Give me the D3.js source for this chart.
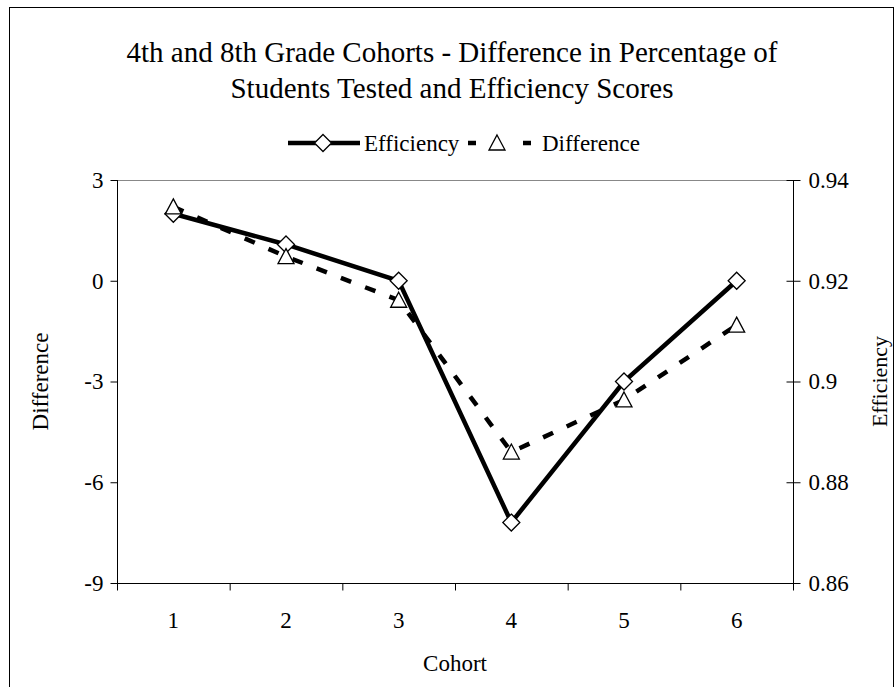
<!DOCTYPE html>
<html><head><meta charset="utf-8">
<script src="https://cdn.jsdelivr.net/npm/d3@7"></script>
<style>body{margin:0;background:#fff}svg{display:block;font-family:"Liberation Serif","Times New Roman",serif}</style>
</head><body>
<svg id="c" width="895" height="687"></svg>
<script>
const cohorts = [1, 2, 3, 4, 5, 6];
const efficiency = [0.9333, 0.9272, 0.92, 0.872, 0.90, 0.92];
const difference = [2.2, 0.72, -0.58, -5.1, -3.55, -1.32];
const leftTicks = [3, 0, -3, -6, -9];
const rightTicks = [0.94, 0.92, 0.9, 0.88, 0.86];
const titleLines = ["4th and 8th Grade Cohorts - Difference in Percentage of", "Students Tested and Efficiency Scores"];

const FONT = "Liberation Serif, Times New Roman, serif";
const svg = d3.select("#c");
const m = {l: 117, r: 793, t: 180, b: 583};

svg.append("rect").attr("x", 9.5).attr("y", 7.5).attr("width", 884).attr("height", 700)
  .attr("fill", "none").attr("stroke", "#000").attr("stroke-width", 1);

const x = d3.scaleBand().domain(cohorts).range([m.l, m.r]);
const yL = d3.scaleLinear().domain([-9, 3]).range([m.b, m.t]);
const yR = d3.scaleLinear().domain([0.86, 0.94]).range([m.b, m.t]);
const cx = d => x(d) + x.bandwidth() / 2;

// title
svg.append("g").selectAll("text").data(titleLines).join("text")
  .attr("x", 452).attr("y", (d, i) => 62 + i * 36).attr("text-anchor", "middle")
  .attr("font-size", 29).text(d => d);

// plot top border (grey)
svg.append("line").attr("x1", m.l).attr("x2", m.r).attr("y1", m.t + 0.5).attr("y2", m.t + 0.5)
  .attr("stroke", "#888").attr("stroke-width", 1);

// left axis
const gL = svg.append("g").attr("transform", `translate(${m.l + 0.5},0)`)
  .call(d3.axisLeft(yL).tickValues(leftTicks).tickSize(7).tickPadding(7).tickFormat(d => String(d)));
// right axis
const gR = svg.append("g").attr("transform", `translate(${m.r + 0.5},0)`)
  .call(d3.axisRight(yR).tickValues(rightTicks).tickSize(7).tickPadding(8).tickFormat(d => String(+d.toFixed(2))));
gR.selectAll(".tick line").attr("x1", -7);
// bottom axis
const xb = d3.scaleLinear().domain([0, 6]).range([m.l, m.r]);
const gB = svg.append("g").attr("transform", `translate(0,${m.b + 0.5})`)
  .call(d3.axisBottom(xb).ticks(6).tickSize(7).tickFormat(""));
const gBl = svg.append("g").attr("transform", `translate(0,${m.b + 0.5})`)
  .call(d3.axisBottom(x).tickSize(0).tickPadding(28));
gBl.select(".domain").remove();

[gL, gR, gB, gBl].forEach(g => {
  g.attr("font-size", 23).attr("font-family", FONT);
  g.select(".domain").attr("stroke", "#000").attr("stroke-width", 1);
  g.selectAll(".tick line").attr("stroke", "#000");
  g.selectAll("text").attr("font-size", 23).attr("fill", "#000").attr("font-family", FONT);
});
gL.select(".domain").attr("d", `M0,${m.t}V${m.b}`);
gR.select(".domain").attr("d", `M0,${m.t}V${m.b + 7}`);
gB.select(".domain").attr("d", `M${m.l},0H${m.r}`);

// axis titles
svg.append("text").attr("transform", `translate(48,${(m.t + m.b) / 2}) rotate(-90)`)
  .attr("text-anchor", "middle").attr("font-size", 23).text("Difference");
svg.append("text").attr("transform", `translate(887,${(m.t + m.b) / 2}) rotate(-90)`)
  .attr("text-anchor", "middle").attr("font-size", 22).text("Efficiency");
svg.append("text").attr("x", (m.l + m.r) / 2).attr("y", 671).attr("text-anchor", "middle")
  .attr("font-size", 23).text("Cohort");

// lines
const lineD = d3.line().x((d, i) => cx(cohorts[i])).y(d => yL(d));
const lineE = d3.line().x((d, i) => cx(cohorts[i])).y(d => yR(d));
svg.append("path").datum(difference).attr("d", lineD).attr("fill", "none")
  .attr("stroke", "#000").attr("stroke-width", 4.5).attr("stroke-dasharray", "11,15");
svg.append("path").datum(efficiency).attr("d", lineE).attr("fill", "none")
  .attr("stroke", "#000").attr("stroke-width", 4.5);

const diamond = "M0,-8.5L8.5,0L0,8.5L-8.5,0Z";
const tri = "M0,-8L8,7L-8,7Z";
svg.append("g").selectAll("path").data(efficiency).join("path")
  .attr("d", diamond).attr("transform", (d, i) => `translate(${cx(cohorts[i])},${yR(d)})`)
  .attr("fill", "#fff").attr("stroke", "#000").attr("stroke-width", 1.3);
svg.append("g").selectAll("path").data(difference).join("path")
  .attr("d", tri).attr("transform", (d, i) => `translate(${cx(cohorts[i])},${yL(d)})`)
  .attr("fill", "#fff").attr("stroke", "#000").attr("stroke-width", 1.3);

// legend
const lg = svg.append("g");
lg.append("line").attr("x1", 288).attr("x2", 360).attr("y1", 143).attr("y2", 143)
  .attr("stroke", "#000").attr("stroke-width", 4.5);
lg.append("path").attr("d", diamond).attr("transform", "translate(323,143)")
  .attr("fill", "#fff").attr("stroke", "#000").attr("stroke-width", 1.3);
lg.append("text").attr("x", 364).attr("y", 151).attr("font-size", 23).text("Efficiency");
lg.append("line").attr("x1", 468).attr("x2", 531).attr("y1", 143).attr("y2", 143)
  .attr("stroke", "#000").attr("stroke-width", 4.5).attr("stroke-dasharray", "8,47");
lg.append("path").attr("d", tri).attr("transform", "translate(497,143)")
  .attr("fill", "#fff").attr("stroke", "#000").attr("stroke-width", 1.3);
lg.append("text").attr("x", 542).attr("y", 151).attr("font-size", 23).text("Difference");
</script>
</body></html>
